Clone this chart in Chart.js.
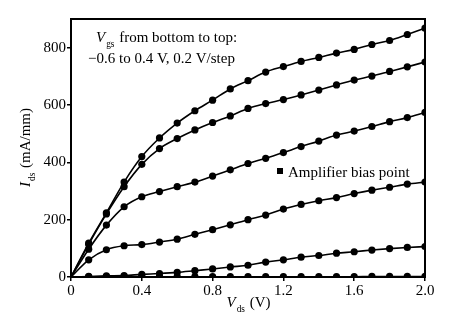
<!DOCTYPE html>
<html>
<head>
<meta charset="utf-8">
<script src="https://cdn.jsdelivr.net/npm/chart.js@4/dist/chart.umd.min.js"></script>
<style>
  html, body { margin: 0; padding: 0; background: #fff; }
  #wrap { width: 462px; height: 330px; }
</style>
</head>
<body>
<div id="wrap"><canvas id="ivChart" width="462" height="330"></canvas></div>
<script>
// Vds sweep (V)
const vds = [0, 0.1, 0.2, 0.3, 0.4, 0.5, 0.6, 0.7, 0.8, 0.9, 1.0,
             1.1, 1.2, 1.3, 1.4, 1.5, 1.6, 1.7, 1.8, 1.9, 2.0];

// Ids (mA/mm) for each Vgs, bottom to top
const vgsLabels = ['-0.6 V', '-0.4 V', '-0.2 V', '0.0 V', '0.2 V', '0.4 V'];
const idsM06 = [0, 1, 1, 1, 1, 1, 1, 1, 1, 1, 1, 1, 1, 1, 1, 1, 1, 2, 2, 2, 2];
const idsM04 = [0, 2, 4, 5, 9, 12, 16, 22, 28, 35, 41, 52, 60, 69, 75, 83, 88, 94, 99, 103, 106];
const idsM02 = [0, 60, 95, 109, 113, 122, 132, 149, 165, 182, 200, 216, 237, 253, 266, 277, 291, 303, 313, 324, 331];
const ids00  = [0, 97, 181, 245, 280, 298, 315, 331, 352, 374, 396, 414, 434, 455, 474, 495, 509, 525, 542, 556, 574];
const idsP02 = [0, 114, 220, 315, 393, 448, 483, 513, 539, 562, 588, 605, 619, 635, 652, 670, 687, 701, 717, 733, 750];
const idsP04 = [0, 118, 224, 331, 420, 485, 537, 580, 617, 656, 685, 715, 734, 752, 766, 781, 794, 811, 825, 846, 868];

const allSeries = [idsM06, idsM04, idsM02, ids00, idsP02, idsP04];

const serif = '"Liberation Serif", "Times New Roman", serif';

// --- frame, axis titles and notes drawn on top ---
function drawSubText(ctx, x, y, main, sub, rest, size, align) {
    ctx.font = 'italic ' + size + 'px ' + serif;
    const wMain = ctx.measureText(main).width;
    ctx.font = (size * 0.62) + 'px ' + serif;
    const wSub = ctx.measureText(sub).width;
    ctx.font = size + 'px ' + serif;
    const wRest = ctx.measureText(rest).width;
    let start = x;
    if (align === 'center') start = x - (wMain + wSub + 1 + wRest) / 2;
    ctx.textAlign = 'left';
    ctx.textBaseline = 'alphabetic';
    ctx.font = 'italic ' + size + 'px ' + serif;
    ctx.fillText(main, start, y);
    ctx.font = (size * 0.62) + 'px ' + serif;
    ctx.fillText(sub, start + wMain + 1, y + size * 0.3);
    ctx.font = size + 'px ' + serif;
    ctx.fillText(rest, start + wMain + wSub + 2, y);
}

const decorations = {
    id: 'decorations',
    afterDraw(chart) {
        const ctx = chart.ctx;
        const a = chart.chartArea;
        ctx.save();
        ctx.strokeStyle = '#000';
        ctx.lineWidth = 2;
        ctx.strokeRect(a.left, a.top, a.right - a.left, a.bottom - a.top);

        ctx.fillStyle = '#000';
        // x title
        drawSubText(ctx, (a.left + a.right) / 2, 307, 'V', 'ds', ' (V)', 15, 'center');
        // y title
        ctx.save();
        ctx.translate(30, (a.top + a.bottom) / 2);
        ctx.rotate(-Math.PI / 2);
        drawSubText(ctx, 0, 0, 'I', 'ds', ' (mA/mm)', 15, 'center');
        ctx.restore();

        // note
        drawSubText(ctx, 96, 42, 'V', 'gs', ' from bottom to top:', 15, 'left');
        ctx.font = '15px ' + serif;
        ctx.fillText('\u22120.6 to 0.4 V, 0.2 V/step', 88, 63);

        // legend for bias point
        ctx.fillRect(277, 168, 6, 6);
        ctx.fillText('Amplifier bias point', 288, 177);
        ctx.restore();
    }
};

const ctx = document.getElementById('ivChart').getContext('2d');
new Chart(ctx, {
    type: 'line',
    data: {
        datasets: allSeries.map((ids, i) => ({
            label: vgsLabels[i],
            data: vds.map((v, j) => ({ x: v, y: ids[j] })),
            borderColor: '#000',
            backgroundColor: '#000',
            borderWidth: 1.6,
            pointRadius: c => c.dataIndex === 0 ? 0 : 3.6,
            pointBorderWidth: 0,
            cubicInterpolationMode: 'monotone',
            fill: false
        }))
    },
    options: {
        responsive: false,
        animation: false,
        layout: { padding: { top: 19, right: 37, left: 0, bottom: 0 } },
        plugins: {
            legend: { display: false },
            tooltip: { enabled: false }
        },
        scales: {
            x: {
                type: 'linear',
                min: 0,
                max: 2,
                afterFit(scale) { scale.height = 53; },
                ticks: {
                    stepSize: 0.4,
                    color: '#000',
                    padding: 1,
                    font: { family: serif, size: 15 },
                    callback: v => v === 0 ? '0' : v.toFixed(1)
                },
                grid: { drawOnChartArea: false, color: '#000', tickLength: 4, lineWidth: 1.5 },
                border: { color: '#000', width: 2 }
            },
            y: {
                type: 'linear',
                min: 0,
                max: 900,
                afterFit(scale) { scale.width = 71; },
                ticks: {
                    stepSize: 200,
                    includeBounds: false,
                    color: '#000',
                    padding: 1,
                    font: { family: serif, size: 15 }
                },
                grid: { drawOnChartArea: false, color: '#000', tickLength: 4, lineWidth: 1.5 },
                border: { color: '#000', width: 2 }
            }
        }
    },
    plugins: [decorations]
});
</script>
</body>
</html>
